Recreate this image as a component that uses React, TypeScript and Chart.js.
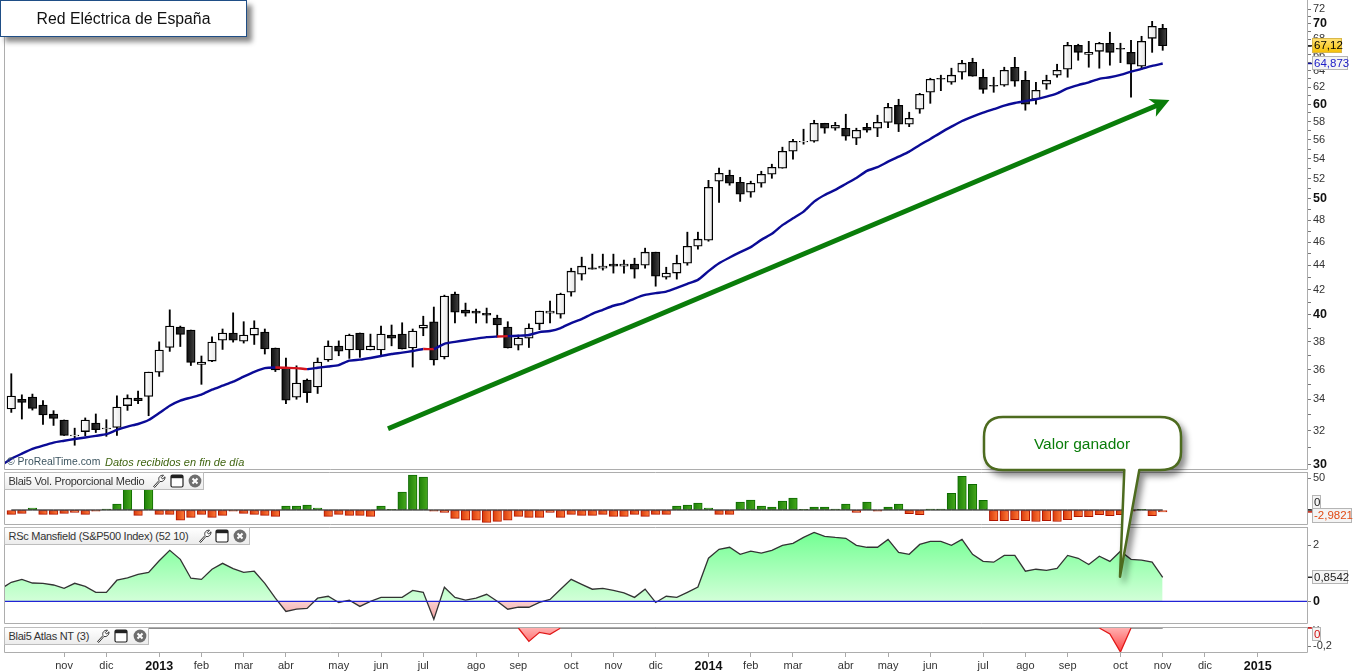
import React, { useEffect, useRef } from "react";
import { Chart, registerables } from "chart.js";

Chart.register(...registerables);

const FONT = '"Liberation Sans", Arial, sans-serif';

const opens = [33.38,34.01,34.15,33.63,33.06,32.68,31.70,31.96,32.49,32.13,32.21,33.60,34.08,34.19,35.83,37.57,39.08,38.85,36.36,36.60,38.10,38.63,38.03,38.48,38.70,37.53,36.15,34.15,35.29,34.82,36.68,37.67,37.39,38.63,37.39,37.39,38.48,38.55,37.53,39.00,39.48,36.89,41.63,40.37,40.29,40.13,39.75,39.08,37.74,38.25,39.32,40.13,40.06,41.78,43.26,43.79,43.76,44.10,43.93,44.10,44.01,45.13,43.01,43.35,44.18,45.65,46.18,51.73,52.33,51.63,50.65,51.53,52.43,53.04,54.80,55.79,55.86,57.83,57.28,57.28,56.19,57.39,57.28,57.93,59.86,57.72,59.41,61.38,63.06,62.57,63.79,65.03,63.18,62.21,62.21,64.41,62.82,60.56,62.33,63.43,64.16,67.19,66.03,66.41,67.45,66.80,66.28,64.53,68.09,69.42];
const highs = [35.72,34.30,34.35,33.92,33.27,32.68,32.17,32.81,33.06,32.70,34.24,34.30,34.55,35.83,37.98,40.39,39.15,38.85,36.96,38.35,38.93,40.16,39.48,39.55,38.93,37.53,36.82,36.27,35.36,36.82,38.05,38.05,38.55,38.63,38.55,39.15,39.23,39.40,38.93,39.90,40.61,41.55,41.79,40.92,40.45,40.53,39.98,39.48,38.48,39.32,40.29,41.08,41.71,43.76,44.70,44.96,44.96,44.96,44.44,44.61,45.48,45.13,43.84,44.87,46.90,46.90,51.82,53.04,52.84,52.12,51.73,52.73,53.45,55.23,56.08,57.17,58.16,57.83,57.93,58.84,57.28,57.83,58.73,60.09,60.56,59.07,61.26,63.06,63.43,64.29,65.28,65.53,64.16,63.18,64.41,65.65,63.91,62.57,63.43,64.78,67.57,67.32,67.70,67.57,68.89,67.45,67.83,68.36,70.35,69.95];
const lows = [33.16,32.74,33.31,32.40,32.34,31.72,31.13,31.70,31.90,31.67,31.72,33.29,33.73,32.95,35.54,37.29,37.64,36.29,35.00,36.56,37.43,37.96,37.89,37.79,37.10,35.87,33.73,34.01,33.80,34.39,36.58,36.98,36.79,36.86,37.39,36.93,37.69,37.46,36.18,38.43,36.32,36.75,39.38,39.90,39.38,39.38,38.33,37.53,37.39,37.57,38.88,39.38,39.75,41.47,42.77,43.68,43.60,43.35,43.35,42.93,43.76,42.27,42.85,42.85,44.01,45.39,46.09,49.67,51.33,49.76,50.16,51.14,52.02,53.04,53.96,55.55,55.76,56.73,57.06,55.97,55.50,56.84,56.36,57.34,56.91,57.45,58.95,60.09,61.57,62.33,62.94,63.30,61.26,61.38,62.09,62.09,59.30,59.98,61.73,63.18,63.18,65.28,64.41,64.29,64.66,64.98,60.80,64.16,66.28,66.54];
const closes = [34.22,33.80,33.42,33.00,32.78,31.72,31.75,32.68,32.08,32.17,33.50,34.08,33.92,35.83,37.39,39.15,38.52,36.51,36.53,37.96,38.63,38.10,38.48,39.00,37.46,35.99,33.95,35.09,34.45,36.53,37.67,37.31,38.48,37.39,37.67,38.55,38.25,37.46,38.78,39.23,36.68,41.47,40.21,40.13,40.13,39.98,39.23,37.53,38.26,39.00,40.29,40.29,41.63,43.51,43.93,43.68,43.93,43.93,44.10,43.68,45.13,43.10,43.35,44.18,45.65,46.27,51.12,52.53,51.53,50.45,51.53,52.43,53.14,54.80,55.86,55.86,57.83,57.28,57.61,56.40,57.06,57.06,57.93,59.64,57.72,58.39,61.15,62.94,62.94,63.43,64.91,63.30,61.73,62.09,64.04,62.70,59.98,61.61,62.82,64.04,67.19,66.28,66.28,67.45,66.28,66.67,64.78,67.70,69.68,67.12];

// The three line series begin one bar before the first candle (index -1), off the left edge.
const maValues = [29.92,30.33,30.63,30.91,31.11,31.29,31.40,31.51,31.60,31.70,31.80,32.06,32.27,32.43,32.68,33.12,33.59,33.92,34.12,34.32,34.64,34.91,35.18,35.52,35.85,36.11,36.15,36.13,36.11,36.04,36.13,36.22,36.32,36.63,36.70,36.82,36.96,37.10,37.20,37.32,37.46,37.46,37.84,37.98,38.10,38.22,38.33,38.37,38.40,38.43,38.48,38.70,38.78,39.00,39.38,39.68,40.08,40.39,40.71,40.92,41.28,41.57,41.71,41.83,42.13,42.46,42.79,43.51,44.18,44.67,45.13,45.57,46.21,46.75,47.54,48.17,48.79,49.74,50.38,50.87,51.46,52.05,52.77,53.14,53.71,54.23,54.76,55.46,56.11,56.80,57.45,58.08,58.57,59.02,59.41,59.82,60.13,60.36,60.56,60.87,61.26,61.85,62.24,62.57,62.98,63.18,63.47,63.87,64.20,64.57,64.873];
const maRedSegments = [25,26,27,39,46];

const volValues = [-6.8,-5.2,3.1,-6.8,-6.8,-5.2,-3.6,-6.8,-2,1.6,9.4,60,-8.3,60,-6.8,-6.8,-16,-11.5,-6.8,-11.5,-8.3,-2,-5.2,-6.8,-8.3,-9.9,6.3,6.3,7.8,3.1,-9.9,-6.8,-8.3,-8.3,-9.9,6.3,0.5,28,54.7,51.6,-2,-3.6,-13,-16,-16,-19.3,-17.7,-16,-9.9,-11.5,-11.5,-3.6,-11.5,-6.8,-8.3,-8.3,-6.8,-9.9,-9.9,-6.8,-9.9,-6.8,-6.8,6.3,7.8,10.9,3.1,-6.8,-6.8,12.5,15.6,6.3,4.7,14,18.8,0.5,4.7,4.7,1.6,9.4,-3.6,12.5,-2,4.7,9.4,-5.7,-7.3,1.6,1.6,26,52.6,40,15,-16.7,-16.7,-15,-16.7,-18,-16.7,-18,-15,-10.4,-10.4,-7.3,-8.9,-7.3,-2,1,-8.9,-2.98];

const rscValues = [0.44,0.675,0.78,0.65,0.64,0.58,0.46,0.64,0.53,0.32,0.32,0.75,0.83,0.96,1.03,1.44,1.81,1.49,0.82,0.78,1.14,1.35,1.16,1.03,1.07,0.64,0.11,-0.36,-0.28,-0.25,0.11,0.18,-0.04,0.04,-0.18,0,0.14,0.14,0.14,0.39,0.32,-0.64,0.5,0.14,0.04,0.11,0.25,0,-0.28,-0.21,-0.21,-0.04,0.07,0.43,0.78,0.6,0.43,0.46,0.39,0.3,0.14,0.43,-0.04,0.18,0.14,0.32,0.51,1.53,1.85,1.92,1.67,1.78,1.71,1.81,1.99,2.06,2.27,2.45,2.31,2.27,2.24,1.99,1.92,1.92,2.2,1.74,1.67,2.02,2.13,2.13,1.99,2.2,1.67,1.42,1.39,1.63,1.63,1.07,1.14,1.1,1.17,1.63,1.53,1.31,1.6,1.42,1.78,1.49,1.46,1.39,0.854];

const atlasValues = [0,0,0,0,0,0,0,0,0,0,0,0,0,0,0,0,0,0,0,0,0,0,0,0,0,0,0,0,0,0,0,0,0,0,0,0,0,0,0,0,0,0,0,0,0,0,0,0,0,0,-0.145,-0.047,-0.068,0,0,0,0,0,0,0,0,0,0,0,0,0,0,0,0,0,0,0,0,0,0,0,0,0,0,0,0,0,0,0,0,0,0,0,0,0,0,0,0,0,0,0,0,0,0,0,0,0,0,0,0,-0.065,-0.26,0,0,0,0];

const monthTicks = [5,9,14,18,22,26,31,35,39,44,48,53,57,61,66,70,74,79,83,87,92,96,100,105,109,113,118];
const monthLabels = ["nov","dic","2013","feb","mar","abr","may","jun","jul","ago","sep","oct","nov","dic","2014","feb","mar","abr","may","jun","jul","ago","sep","oct","nov","dic","2015"];

const priceTicks = [30,31,32,33,34,35,36,37,38,39,40,41,42,43,44,45,46,47,48,49,50,51,52,53,54,55,56,57,58,59,60,61,62,63,64,65,66,67,68,69,70,71,72];
const priceBold = [30,40,50,60,70];
const volTicks = [50,0];
const rscTicks = [2,0];
const rscBold = [0];
const atlasTicks = [0,-0.2];
const atlasTickLabels = ["0","-0,2"];

const arrowIndex = [35.66,108.55];
const arrowPrices = [32.13,59.89];

const lastPriceLabel = "67,12";
const lastMaLabel = "64,873";
const lastVolLabel = "-2,9821";
const lastRscLabel = "0,8542";

const X_MIN = -0.691;
const X_MAX = 122.66;
const LEFT = 4;
const AXIS_W = 55;

type Box = { value: number; text: string; dy: number; w: number; h: number; bg: string | string[]; border: string; color: string; tick: string };

const framePlugin = {
  id: "frame",
  afterDatasetsDraw(chart: any) {
    const { ctx, chartArea: a } = chart;
    ctx.save();
    ctx.strokeStyle = "#adadad";
    ctx.lineWidth = 1;
    ctx.beginPath();
    ctx.moveTo(a.left + 0.5, a.top);
    ctx.lineTo(a.left + 0.5, a.bottom + 0.5);
    ctx.lineTo(a.right + 0.5, a.bottom + 0.5);
    ctx.lineTo(a.right + 0.5, a.top);
    if (chart.options.plugins.frame?.topLine !== false && a.top > 0) {
      ctx.moveTo(a.left, a.top + 0.5);
      ctx.lineTo(a.right, a.top + 0.5);
    }
    ctx.stroke();
    ctx.restore();
  },
};

const boxesPlugin = {
  id: "boxes",
  afterDraw(chart: any) {
    const boxes: Box[] = chart.options.plugins.boxes?.items || [];
    const { ctx, chartArea: a } = chart;
    const y = chart.scales.y;
    ctx.save();
    for (const b of boxes) {
      const py = y.getPixelForValue(b.value);
      ctx.strokeStyle = b.tick;
      ctx.lineWidth = 1.5;
      ctx.beginPath();
      ctx.moveTo(a.right + 1, py);
      ctx.lineTo(a.right + 5, py);
      ctx.stroke();
      const x0 = 1312;
      const top = Math.round(py + b.dy - b.h / 2);
      if (Array.isArray(b.bg)) {
        const g = ctx.createLinearGradient(0, top, 0, top + b.h);
        g.addColorStop(0, b.bg[0]);
        g.addColorStop(1, b.bg[1]);
        ctx.fillStyle = g;
      } else ctx.fillStyle = b.bg;
      ctx.fillRect(x0, top, b.w, b.h);
      ctx.strokeStyle = b.border;
      ctx.lineWidth = 1;
      ctx.strokeRect(x0 + 0.5, top + 0.5, b.w - 1, b.h - 1);
      ctx.fillStyle = b.color;
      ctx.font = `11.5px ${FONT}`;
      ctx.textAlign = "left";
      ctx.textBaseline = "middle";
      ctx.fillText(b.text, x0 + 2, top + b.h / 2 + 0.5);
    }
    ctx.restore();
  },
};

const arrowHeadPlugin = {
  id: "arrowHead",
  afterDatasetsDraw(chart: any) {
    if (!chart.options.plugins.arrowHead?.enabled) return;
    const { ctx, scales } = chart;
    const tx = scales.x.getPixelForValue(arrowIndex[1]) + 11.5;
    const ty = scales.y.getPixelForValue(arrowPrices[1]) - 5;
    ctx.save();
    ctx.fillStyle = "#0a7d0a";
    ctx.beginPath();
    ctx.moveTo(tx, ty);
    ctx.lineTo(tx - 21, ty - 1);
    ctx.lineTo(tx - 13, ty + 5);
    ctx.lineTo(tx - 13.6, ty + 16.7);
    ctx.closePath();
    ctx.fill();
    ctx.restore();
  },
};

const numScale = (min: number, max: number, ticks: number[], labels: (v: number) => string, bold: number[] = []) => ({
  position: "right" as const,
  min,
  max,
  bounds: "data" as const,
  afterBuildTicks: (s: any) => { s.ticks = ticks.map((value) => ({ value })); },
  afterFit: (s: any) => { s.width = AXIS_W; s.paddingTop = 0; s.paddingBottom = 0; },
  grid: { drawOnChartArea: false, tickLength: 4, tickColor: "#777", drawTicks: true },
  border: { display: false },
  ticks: {
    autoSkip: false,
    maxRotation: 0,
    padding: 2,
    color: (c: any) => (bold.includes(c.tick?.value) ? "#111" : "#333"),
    font: (c: any) => (bold.includes(c.tick?.value)
      ? { family: FONT, size: 12.5, weight: "bold" as const }
      : { family: FONT, size: 11 }),
    callback: (v: number) => labels(Number(v)),
  },
});

const xScale = (show: boolean) => ({
  type: "linear" as const,
  min: X_MIN,
  max: X_MAX,
  offset: false,
  bounds: "data" as const,
  display: show,
  afterBuildTicks: (s: any) => { s.ticks = monthTicks.map((value) => ({ value })); },
  afterFit: (s: any) => { if (show) s.height = 20; s.paddingLeft = 0; s.paddingRight = 0; },
  grid: { drawOnChartArea: false, tickLength: 5, tickColor: "#aaa", offset: false },
  border: { display: false },
  ticks: {
    autoSkip: false,
    maxRotation: 0,
    minRotation: 0,
    padding: 2,
    color: (c: any) => (/^20/.test(monthLabels[monthTicks.indexOf(c.tick?.value)] || "") ? "#111" : "#333"),
    font: (c: any) => (/^20/.test(monthLabels[monthTicks.indexOf(c.tick?.value)] || "")
      ? { family: FONT, size: 12.5, weight: "bold" as const }
      : { family: FONT, size: 11 }),
    callback: (v: number) => monthLabels[monthTicks.indexOf(Number(v))] ?? "",
  },
});

const baseOptions = (padTop: number, padBottom: number, scales: any, plugins: any) => ({
  responsive: false,
  animation: false as const,
  devicePixelRatio: 1,
  events: [] as string[],
  layout: { autoPadding: false, padding: { left: LEFT, right: 0, top: padTop, bottom: padBottom } },
  scales,
  plugins: { legend: { display: false }, tooltip: { enabled: false }, ...plugins },
});

const sideGradient = (c: any, stops: string[]) => {
  const chart = c.chart;
  const xs = chart.scales.x;
  const raw = c.raw;
  if (!xs || !raw) return stops[0];
  const px = xs.getPixelForValue(raw.x);
  if (!Number.isFinite(px)) return stops[0];
  const g = chart.ctx.createLinearGradient(px - 4, 0, px + 4, 0);
  g.addColorStop(0, stops[0]);
  g.addColorStop(1, stops[1]);
  return g;
};

const series = (values: number[], start = -1) => values.map((y, i) => ({ x: i + start, y }));

function Wrench({ x, y }: { x: number; y: number }) {
  return (
    <svg style={{ position: "absolute", left: x - 7, top: y - 7 }} width={14} height={14} viewBox="0 0 14 14">
      <path d="M1.5 12.5 L7 6.5 C6 3.5 8 1 11.5 1.2 L9.3 3.6 L10.6 5 L13 2.8 C13.2 6 10.6 8.2 8 7.4 L2.8 13.4 Z" fill="#fff" stroke="#333" strokeWidth="1" />
    </svg>
  );
}
function WindowIcon({ x, y }: { x: number; y: number }) {
  return (
    <svg style={{ position: "absolute", left: x - 7, top: y - 7 }} width={14} height={14} viewBox="0 0 14 14">
      <rect x="1" y="1" width="12" height="12" rx="1.5" fill="#fff" stroke="#222" strokeWidth="1.2" />
      <rect x="1" y="1" width="12" height="3.2" fill="#222" />
    </svg>
  );
}
function CloseIcon({ x, y }: { x: number; y: number }) {
  return (
    <svg style={{ position: "absolute", left: x - 7, top: y - 7 }} width={14} height={14} viewBox="0 0 14 14">
      <circle cx="7" cy="7" r="6.4" fill="#6e6e6e" />
      <path d="M4.5 4.5 L9.5 9.5 M9.5 4.5 L4.5 9.5" stroke="#fff" strokeWidth="2" />
    </svg>
  );
}

function PanelLabel({ top, width, text, icons }: { top: number; width: number; text: string; icons: number[] }) {
  return (
    <>
      <div style={{ position: "absolute", left: 4, top, width: width - 2, height: 16, border: "1px solid #bdbdbd", background: "linear-gradient(#ffffff,#ececec)", font: `11px ${FONT}`, letterSpacing: "-0.27px", color: "#333", lineHeight: "16px", whiteSpace: "nowrap" }}>
        <span style={{ marginLeft: 3.5 }}>{text}</span>
      </div>
      <Wrench x={icons[0]} y={top + 9} />
      <WindowIcon x={icons[1]} y={top + 9} />
      <CloseIcon x={icons[2]} y={top + 9} />
    </>
  );
}

export default function App() {
  const priceRef = useRef<HTMLCanvasElement>(null);
  const volRef = useRef<HTMLCanvasElement>(null);
  const rscRef = useRef<HTMLCanvasElement>(null);
  const atlasRef = useRef<HTMLCanvasElement>(null);

  useEffect(() => {
    document.body.style.margin = "0";
    document.body.style.background = "#fff";
    document.body.style.overflow = "hidden";
    const charts: Chart[] = [];

    const isUp = (i: number) => closes[i] >= opens[i];
    charts.push(new Chart(priceRef.current!, {
      type: "bar",
      plugins: [framePlugin, arrowHeadPlugin, boxesPlugin],
      data: {
        datasets: [
          {
            type: "line", order: 0, data: series(maValues), pointRadius: 0, borderWidth: 2.4, borderColor: "#0b0b96", tension: 0.2,
            segment: { borderColor: (c: any) => (maRedSegments.includes(c.p0.parsed.x) ? "#d4141e" : undefined) },
          },
          {
            type: "line", order: 0, data: arrowIndex.map((x, i) => ({ x, y: arrowPrices[i] })), pointRadius: 0, borderWidth: 5, borderColor: "#0a7d0a",
          },
          {
            type: "bar", order: 1, grouped: false, barThickness: 8.5, borderWidth: 1.3, borderColor: "#000", borderSkipped: false,
            data: opens.map((o, i) => ({ x: i, y: [o, closes[i]] })),
            backgroundColor: (c: any) => (c.raw && isUp(c.dataIndex) ? sideGradient(c, ["#ffffff", "#e6e6e6"]) : sideGradient(c, ["#0c0c0c", "#444444"])),
          },
          {
            type: "bar", order: 2, grouped: false, barThickness: 1.2, borderWidth: 0, backgroundColor: "#000",
            data: lows.map((l, i) => ({ x: i, y: [l, highs[i]] })),
          },
        ] as any,
      },
      options: baseOptions(0, 1, {
        x: xScale(false),
        y: { type: "logarithmic", ...numScale(29.74, 73.3, priceTicks, (v) => (v % 2 === 0 ? String(v) : ""), priceBold) },
      }, {
        arrowHead: { enabled: true },
        boxes: {
          items: [
            { value: closes[closes.length - 1], text: lastPriceLabel, dy: 0, w: 30, h: 15, bg: ["#ffe27a", "#f5bf00"], border: "#d9b84a", color: "#000", tick: "#222" },
            { value: maValues[maValues.length - 1], text: lastMaLabel, dy: 0, w: 36, h: 14, bg: "#f4f4f4", border: "#b5b5b5", color: "#2020c8", tick: "#1010a0" },
          ],
        },
      }) as any,
    }));

    charts.push(new Chart(volRef.current!, {
      type: "bar",
      plugins: [framePlugin, boxesPlugin],
      data: {
        datasets: [
          { type: "line", order: 0, data: series(volValues.map(() => 0), 0), pointRadius: 0, borderWidth: 1, borderColor: "#000" },
          {
            type: "bar", order: 1, grouped: false, barThickness: 8.6, borderWidth: 1, borderSkipped: false,
            data: series(volValues, 0),
            borderColor: (c: any) => (c.raw?.y >= 0 ? "#0d6a00" : "#b01400"),
            backgroundColor: (c: any) => (c.raw?.y >= 0 ? sideGradient(c, ["#20820a", "#46a81c"]) : sideGradient(c, ["#d83c0c", "#ff7a38"])),
          },
        ] as any,
      },
      options: baseOptions(1, 1, {
        x: xScale(false),
        y: { type: "linear", ...numScale(-21.9, 59.4, volTicks, (v) => String(v)) },
      }, {
        boxes: {
          items: [
            { value: 0, text: "0", dy: -7.5, w: 9, h: 14, bg: "#f4f4f4", border: "#b5b5b5", color: "#222", tick: "#222" },
            { value: volValues[volValues.length - 1], text: lastVolLabel, dy: 4, w: 40, h: 15, bg: "#f4f4f4", border: "#b5b5b5", color: "#e04a14", tick: "#c01400" },
          ],
        },
      }) as any,
    }));

    const rc = rscRef.current!.getContext("2d")!;
    const above = rc.createLinearGradient(0, 6, 0, 75);
    above.addColorStop(0, "#72ff92");
    above.addColorStop(1, "#d2ffd8");
    const below = rc.createLinearGradient(0, 75, 0, 95);
    below.addColorStop(0, "#fbd2d2");
    below.addColorStop(1, "#ee9a9a");
    charts.push(new Chart(rscRef.current!, {
      type: "line",
      plugins: [framePlugin, boxesPlugin],
      data: {
        datasets: [
          { data: [{ x: -1, y: 0 }, { x: X_MAX, y: 0 }], pointRadius: 0, borderWidth: 1.3, borderColor: "#2222d6", order: 0 },
          { data: series(rscValues), pointRadius: 0, borderWidth: 1.3, borderColor: "#333", fill: { target: { value: 0 }, above, below }, order: 1 },
        ] as any,
      },
      options: baseOptions(1, 1, {
        x: xScale(false),
        y: { type: "linear", ...numScale(-0.77, 2.64, rscTicks, (v) => String(v), rscBold) },
      }, {
        boxes: {
          items: [
            { value: rscValues[rscValues.length - 1], text: lastRscLabel, dy: 0, w: 36, h: 14, bg: "#f4f4f4", border: "#b5b5b5", color: "#222", tick: "#222" },
          ],
        },
      }) as any,
    }));

    const ac = atlasRef.current!.getContext("2d")!;
    const red = ac.createLinearGradient(0, 2, 0, 26);
    red.addColorStop(0, "#ffb0b0");
    red.addColorStop(1, "#ff4545");
    charts.push(new Chart(atlasRef.current!, {
      type: "line",
      plugins: [framePlugin, boxesPlugin],
      data: {
        datasets: [
          {
            data: series(atlasValues), pointRadius: 0, borderWidth: 1.3, borderColor: "#666",
            segment: { borderColor: (c: any) => (c.p0.parsed.y < 0 || c.p1.parsed.y < 0 ? "#e01818" : undefined) },
            fill: { target: { value: 0 }, above: "transparent", below: red },
          },
        ] as any,
      },
      options: baseOptions(1, 0, {
        x: xScale(true),
        y: { type: "linear", ...numScale(-0.26, 0.0108, atlasTicks, (v) => atlasTickLabels[atlasTicks.indexOf(v)] ?? "") },
      }, {
        boxes: {
          items: [
            { value: 0, text: "0", dy: 6, w: 9, h: 14, bg: "#f4f4f4", border: "#b5b5b5", color: "#d01010", tick: "#d01010" },
          ],
        },
      }) as any,
    }));

    return () => { charts.forEach((c) => c.destroy()); };
  }, []);

  const canvasStyle = (top: number): React.CSSProperties => ({ position: "absolute", left: 0, top, display: "block" });

  return (
    <div style={{ position: "relative", width: 1362, height: 672, overflow: "hidden", background: "#fff" }}>
      <canvas ref={priceRef} width={1362} height={470} style={canvasStyle(0)} />
      <canvas ref={volRef} width={1362} height={54} style={canvasStyle(471)} />
      <canvas ref={rscRef} width={1362} height={98} style={canvasStyle(526)} />
      <canvas ref={atlasRef} width={1362} height={46} style={canvasStyle(626)} />

      <div style={{ position: "absolute", left: 7, top: 456, font: `10.4px ${FONT}`, color: "#3d5560", whiteSpace: "nowrap" }}>© ProRealTime.com</div>
      <div style={{ position: "absolute", left: 105, top: 456, font: `italic 11px ${FONT}`, color: "#3f6410", whiteSpace: "nowrap" }}>Datos recibidos en fin de día</div>

      <PanelLabel top={472} width={200} text="Blai5 Vol. Proporcional Medio" icons={[159, 177, 195]} />
      <PanelLabel top={527} width={246} text="RSc Mansfield (S&P500 Index) (52 10)" icons={[205, 222, 240]} />
      <PanelLabel top={627} width={145} text="Blai5 Atlas NT (3)" icons={[103, 121, 140]} />

      <div style={{ position: "absolute", left: 0, top: 0, width: 245, height: 35, border: "1.5px solid #1f4e86", background: "#fff", boxShadow: "5px 5px 5px #8a8a8a", font: `15.8px ${FONT}`, color: "#111", textAlign: "center", lineHeight: "36px" }}>
        Red Eléctrica de España
      </div>

      <svg width={1362} height={672} style={{ position: "absolute", left: 0, top: 0, pointerEvents: "none", filter: "drop-shadow(4px 5px 3px rgba(0,0,0,0.45))" }}>
        <path d="M1003 417 H1160 Q1181 417 1181 437 V452 Q1181 470 1160 470 H1139.3 L1120 576.7 L1124.3 470 H1003 Q984 470 984 452 V437 Q984 417 1003 417 Z" fill="#fff" stroke="#4d6b1f" strokeWidth="2.5" strokeLinejoin="round" />
        <text x={1082} y={449} textAnchor="middle" fontFamily={FONT} fontSize={15.5} fill="#0a7d0a">Valor ganador</text>
      </svg>
    </div>
  );
}
